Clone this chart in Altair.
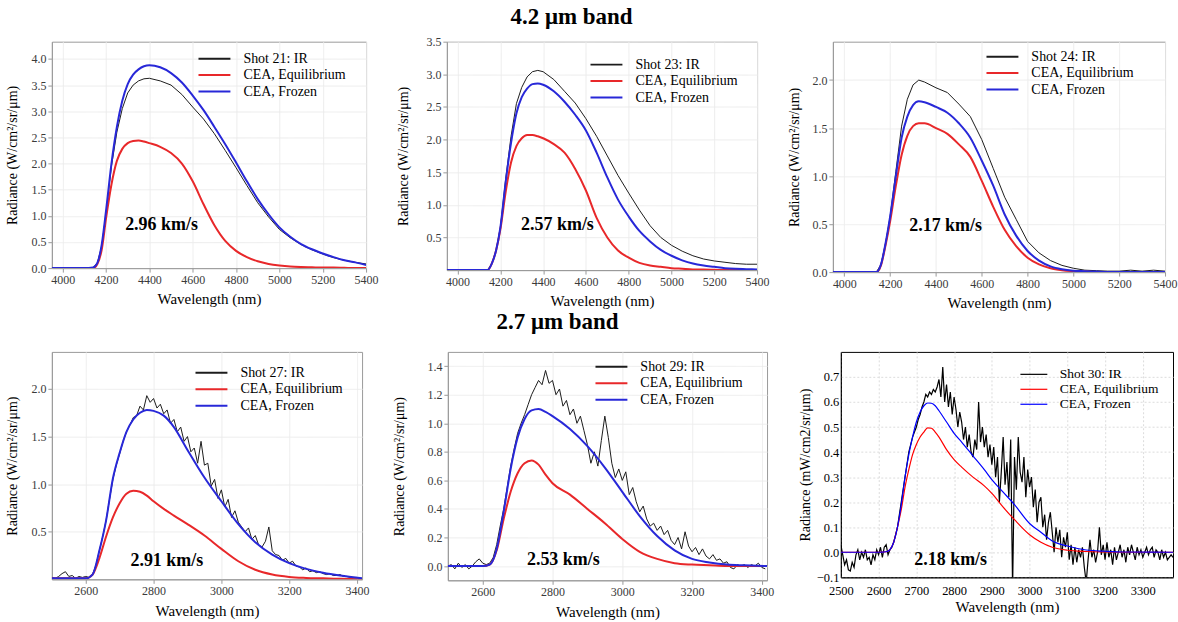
import altair as alt
import pandas as pd

SERIF = "Liberation Serif, Times New Roman, serif"
EQ = "CEA, Equilibrium"
FR = "CEA, Frozen"

# ---------------- 4.2 um band ----------------
band42_wl = [3950, 4000, 4050, 4100, 4140, 4160, 4180, 4200, 4225, 4250,
             4275, 4300, 4325, 4350, 4375, 4400, 4450, 4500, 4550, 4600,
             4650, 4700, 4750, 4800, 4850, 4900, 4950, 5000, 5050, 5100,
             5150, 5200, 5250, 5300, 5350, 5400]
# Shot 21
p1_ir = [0, 0, 0, 0, 0.01, 0.1, 0.42, 1.05, 1.95, 2.6,
         3.05, 3.35, 3.5, 3.58, 3.62, 3.63, 3.58, 3.5, 3.32, 3.08,
         2.85, 2.57, 2.25, 1.92, 1.58, 1.25, 0.98, 0.74, 0.58, 0.45,
         0.35, 0.27, 0.2, 0.15, 0.11, 0.08]
p1_eq = [0, 0, 0, 0, 0, 0.08, 0.35, 0.95, 1.6, 2.05,
         2.28, 2.39, 2.43, 2.44, 2.42, 2.39, 2.32, 2.2, 2.0, 1.66,
         1.22, 0.82, 0.52, 0.33, 0.21, 0.13, 0.08, 0.05, 0.03, 0.02,
         0.015, 0.01, 0.01, 0.005, 0, 0]
p1_fr = [0, 0, 0, 0, 0.01, 0.1, 0.45, 1.1, 2.0, 2.7,
         3.2, 3.52, 3.7, 3.8, 3.86, 3.88, 3.84, 3.73, 3.55, 3.3,
         3.02, 2.7, 2.37, 2.02, 1.66, 1.32, 1.03, 0.78, 0.6, 0.46,
         0.36, 0.28, 0.21, 0.15, 0.11, 0.06]
# Shot 23
p2_ir = [0, 0, 0, 0, 0, 0.1, 0.3, 0.65, 1.4, 2.05,
         2.55, 2.8, 2.96, 3.04, 3.06, 3.04, 2.92, 2.74, 2.56, 2.32,
         2.05, 1.75, 1.45, 1.18, 0.92, 0.68, 0.5, 0.38, 0.29, 0.22,
         0.17, 0.14, 0.12, 0.1, 0.09, 0.09]
p2_eq = [0, 0, 0, 0, 0, 0.1, 0.3, 0.62, 1.2, 1.65,
         1.9, 2.02, 2.07, 2.07, 2.05, 2.02, 1.93, 1.8, 1.55, 1.22,
         0.8, 0.5, 0.3, 0.19, 0.11, 0.07, 0.05, 0.03, 0.02, 0.01,
         0.01, 0.005, 0, 0, 0, 0]
p2_fr = [0, 0, 0, 0, 0, 0.1, 0.3, 0.65, 1.35, 1.95,
         2.4, 2.65, 2.78, 2.85, 2.86, 2.84, 2.74, 2.58, 2.38, 2.14,
         1.8, 1.42, 1.08, 0.82, 0.6, 0.44, 0.31, 0.22, 0.15, 0.1,
         0.07, 0.05, 0.03, 0.02, 0.015, 0.01]
# Shot 24
p3_wl = [3950, 4000, 4050, 4100, 4140, 4160, 4180, 4200, 4225, 4250,
         4275, 4300, 4325, 4350, 4400, 4450, 4500, 4550, 4600, 4650,
         4700, 4750, 4800, 4850, 4900, 4950, 5000, 5050, 5100, 5150,
         5200, 5250, 5300, 5350, 5400]
p3_ir = [0, 0, 0, 0, 0, 0.08, 0.3, 0.58, 1.05, 1.52,
         1.8, 1.95, 2.0, 1.98, 1.92, 1.87, 1.75, 1.62, 1.38, 1.08,
         0.78, 0.55, 0.32, 0.2, 0.12, 0.07, 0.04, 0.02, 0.015, 0.01,
         0.01, 0.02, 0.01, 0.02, 0.01]
p3_eq = [0, 0, 0, 0, 0, 0.07, 0.28, 0.53, 0.9, 1.22,
         1.42, 1.52, 1.55, 1.55, 1.5, 1.44, 1.33, 1.2, 0.95, 0.68,
         0.44, 0.27, 0.15, 0.08, 0.04, 0.02, 0.01, 0.005, 0, 0,
         0, 0, 0, 0, 0]
p3_fr = [0, 0, 0, 0, 0, 0.08, 0.3, 0.58, 1.0, 1.4,
         1.62, 1.74, 1.78, 1.77, 1.72, 1.66, 1.55, 1.4, 1.16, 0.9,
         0.6, 0.38, 0.22, 0.12, 0.06, 0.03, 0.015, 0.01, 0.005, 0,
         0, 0, 0, 0, 0]

# ---------------- 2.7 um band ----------------
# Shot 27
p4_wl = [2500, 2550, 2600, 2620, 2640, 2660, 2680, 2700, 2720, 2740,
         2760, 2780, 2800, 2830, 2860, 2900, 2950, 3000, 3050, 3100,
         3150, 3200, 3250, 3300, 3350, 3415]
p4_eq = [0.01, 0.01, 0.01, 0.05, 0.22, 0.45, 0.65, 0.8, 0.9, 0.93,
         0.92, 0.88, 0.82, 0.74, 0.67, 0.58, 0.46, 0.32, 0.19, 0.1,
         0.05, 0.025, 0.015, 0.01, 0.005, 0]
p4_fr = [0.01, 0.01, 0.01, 0.05, 0.3, 0.62, 1.06, 1.33, 1.55, 1.68,
         1.75, 1.78, 1.77, 1.72, 1.6, 1.36, 1.07, 0.82, 0.58, 0.39,
         0.26, 0.17, 0.11, 0.07, 0.04, 0.01]
p4_ir_wl = list(range(2500, 3411, 10))
p4_ir = [0.02, 0.01, 0.03, 0.06, 0.08, 0.03, 0.04, 0.01, 0.03, 0.02,
         0.03, 0.02, 0.05, 0.15, 0.3, 0.45, 0.62, 0.84, 1.05, 1.2,
         1.32, 1.45, 1.55, 1.62, 1.7, 1.72, 1.82, 1.78, 1.93, 1.86,
         1.9, 1.8, 1.84, 1.74, 1.78, 1.64, 1.68, 1.55, 1.6, 1.45,
         1.5, 1.34, 1.38, 1.22, 1.45, 1.2, 1.22, 0.98, 1.05, 0.85,
         0.94, 0.76, 0.84, 0.65, 0.72, 0.6, 0.55, 0.5, 0.54, 0.42,
         0.46, 0.36, 0.34, 0.4, 0.55, 0.3, 0.26, 0.25, 0.2, 0.22,
         0.17, 0.19, 0.14, 0.13, 0.1, 0.12, 0.08, 0.09, 0.07, 0.08,
         0.06, 0.05, 0.06, 0.04, 0.04, 0.05, 0.03, 0.03, 0.02, 0.02,
         0.02, 0.01]
# Shot 29
p5_wl = [2500, 2550, 2600, 2620, 2640, 2660, 2680, 2700, 2720, 2740,
         2760, 2780, 2800, 2850, 2900, 2950, 3000, 3050, 3100, 3150,
         3200, 3250, 3300, 3350, 3415]
p5_eq = [0, 0, 0, 0.01, 0.11, 0.33, 0.52, 0.65, 0.72, 0.74,
         0.71, 0.64, 0.58, 0.5, 0.4, 0.3, 0.19, 0.1, 0.05, 0.02,
         0.01, 0.005, 0, 0, 0]
p5_fr = [0, 0, 0, 0.01, 0.12, 0.38, 0.68, 0.9, 1.03, 1.09,
         1.1, 1.08, 1.05, 0.96, 0.84, 0.69, 0.52, 0.35, 0.21, 0.11,
         0.05, 0.025, 0.01, 0.005, 0]
p5_ir_wl = list(range(2500, 3411, 10))
p5_ir = [0.0, 0.01, -0.02, 0.02, -0.01, 0.01, -0.02, 0.0, 0.03, 0.05,
         0.02, 0.01, 0.02, 0.06, 0.15, 0.28, 0.4, 0.55, 0.7, 0.82,
         0.93, 1.0, 1.06, 1.13, 1.2, 1.25, 1.3, 1.27, 1.37, 1.28,
         1.3, 1.2, 1.24, 1.12, 1.16, 1.06, 1.1, 1.0, 1.05, 0.95,
         0.85, 0.72, 0.8, 0.7, 0.88, 1.05, 0.9, 0.72, 0.62, 0.68,
         0.6, 0.66, 0.5, 0.55, 0.45, 0.38, 0.42, 0.33, 0.28, 0.3,
         0.25, 0.28, 0.22, 0.25, 0.18, 0.15, 0.2, 0.12, 0.24, 0.14,
         0.1, 0.13, 0.08, 0.12, 0.07, 0.05, 0.08, 0.04, 0.05, 0.02,
         0.03, -0.01, -0.02, 0.01, 0.0, 0.01, -0.01, 0.01, 0.0, 0.02,
         -0.01, -0.02]
# Shot 30
p6_wl = [2500, 2550, 2600, 2620, 2630, 2640, 2650, 2660, 2670, 2680,
         2690, 2700, 2710, 2720, 2730, 2740, 2750, 2760, 2780, 2800,
         2820, 2850, 2880, 2900, 2930, 2960, 3000, 3030, 3060, 3100,
         3150, 3200, 3250, 3380]
p6_eq = [0, 0, 0, 0.002, 0.01, 0.04, 0.1, 0.17, 0.26, 0.33,
         0.39, 0.43, 0.46, 0.48, 0.497, 0.495, 0.48, 0.46, 0.41, 0.37,
         0.34, 0.3, 0.265, 0.235, 0.18, 0.13, 0.07, 0.04, 0.02, 0.008,
         0.003, 0.001, 0, 0]
p6_fr = [0, 0, 0, 0.002, 0.01, 0.04, 0.1, 0.19, 0.3, 0.39,
         0.46, 0.52, 0.56, 0.585, 0.596, 0.595, 0.585, 0.565, 0.52, 0.475,
         0.44, 0.385, 0.33, 0.29, 0.24, 0.19, 0.115, 0.08, 0.045, 0.025,
         0.009, 0.004, 0.001, 0]
p6_ir_wl = list(range(2500, 3381, 5))
p6_ir = [0.03, -0.01, -0.05, -0.03, -0.07, -0.075, -0.04, -0.06, -0.01, 0.01,
         -0.03, 0.0, -0.02, 0.01, -0.03, -0.02, -0.05, -0.01, -0.03, 0.01,
         -0.01, 0.02, -0.02, 0.02, 0.03, -0.01, 0.01, 0.02, 0.04, 0.07,
         0.1, 0.15, 0.2, 0.25, 0.3, 0.35, 0.4, 0.43, 0.46, 0.48,
         0.5, 0.53, 0.55, 0.58, 0.6, 0.63, 0.62, 0.64, 0.63, 0.65,
         0.64, 0.66, 0.69, 0.62, 0.74, 0.6, 0.67, 0.58, 0.64, 0.55,
         0.62, 0.57, 0.5, 0.56, 0.52, 0.45, 0.5, 0.42, 0.47, 0.4,
         0.38, 0.45, 0.41, 0.6, 0.44, 0.5, 0.42, 0.47, 0.38, 0.43,
         0.35, 0.42, 0.3, 0.38, 0.2, 0.32, 0.46, 0.27, 0.36, 0.22,
         0.45, -0.15, 0.38, 0.25, 0.46, 0.32, 0.28, 0.38, 0.22, 0.33,
         0.26, 0.3, 0.18, 0.25, 0.12, 0.2, 0.22, 0.1, 0.15, 0.05,
         0.12, 0.16, 0.08, 0.0, 0.1, 0.04, 0.09, -0.02, 0.06, 0.02,
         0.08, -0.03, 0.03, -0.05, 0.02, -0.04, 0.01, -0.02, 0.02, -0.06,
         -0.12, -0.03, 0.05, -0.02, 0.01, -0.04, 0.0, 0.1, -0.01, 0.03,
         -0.03, 0.04, -0.02, 0.01, -0.05, 0.02, -0.03, 0.0, 0.03, -0.02,
         0.01, -0.04, 0.02, -0.01, 0.03, 0.0, -0.03, 0.02, -0.01, 0.01,
         -0.02, 0.0, 0.02, -0.01, 0.01, 0.02, -0.02, 0.01, 0.0, -0.03,
         0.01, -0.02, 0.0, -0.03, -0.02, -0.01, -0.02]

# velocity annotations (text, wavelength, radiance where the label sits)
vel_text = ["2.96 km/s", "2.57 km/s", "2.17 km/s", "2.91 km/s", "2.53 km/s", "2.18 km/s"]
vel_wl = [4456, 4467, 4442, 2839, 2831, 2791]
vel_val = [0.82, 0.69, 0.48, 0.19, 0.04, -0.032]

# tick labels
x42_ticks = [4000, 4200, 4400, 4600, 4800, 5000, 5200, 5400]
x27_ticks = [2600, 2800, 3000, 3200, 3400]
x30_ticks = [2500, 2600, 2700, 2800, 2900, 3000, 3100, 3200, 3300]
y1_ticks = [0.0, 0.5, 1.0, 1.5, 2.0, 2.5, 3.0, 3.5, 4.0]
y2_ticks = [0.5, 1.0, 1.5, 2.0, 2.5, 3.0, 3.5]
y3_ticks = [0.0, 0.5, 1.0, 1.5, 2.0]
y4_ticks = [0.5, 1.0, 1.5, 2.0]
y5_ticks = [0.0, 0.2, 0.4, 0.6, 0.8, 1.0, 1.2, 1.4]
y6_ticks = [-0.1, 0.0, 0.1, 0.2, 0.3, 0.4, 0.5, 0.6, 0.7]

STYLE_A = dict(colors=["#1c1c1c", "#e8282a", "#2828d8"], ir_w=1.0, cea_w=2.0,
               frame="#9a9a9a", label="#3a3a3a", grid="#ececec", dash=[1, 0],
               lab_fs=12, leg_fs=14, sym=256, lab_off=20, rowpad=0.5,
               tick=4, xpad=2, ytitle="Radiance (W/cm²/sr/μm)")
STYLE_B = dict(colors=["#000000", "#ff0000", "#0000ff"], ir_w=1.2, cea_w=1.2,
               frame="#000000", label="#000000", grid="#dcdcdc", dash=[2, 2],
               lab_fs=12.5, leg_fs=13.5, sym=182, lab_off=18.5, rowpad=1,
               tick=0, xpad=7, ytitle="Radiance (mW/cm2/sr/μm)")


def panel(k, wl_s, eq, fr, wl_ir, ir, shot, st, xdom, ydom, xvals, yvals,
          w, h, ytp, xtp, leg_xy):
    n = len(wl_s)
    cea = pd.DataFrame({"wl": wl_s + wl_s, "val": eq + fr,
                        "series": [EQ] * n + [FR] * n})
    ird = pd.DataFrame({"wl": wl_ir, "val": ir, "series": [shot] * len(wl_ir)})
    txd = pd.DataFrame({"wl": [vel_wl[k]], "val": [vel_val[k]], "t": [vel_text[k]]})
    dom = [shot, EQ, FR]
    leg = alt.Legend(
        orient="none", legendX=leg_xy[0], legendY=leg_xy[1], title=None,
        symbolType="M-2,0H2", symbolSize=st["sym"], symbolStrokeWidth=st["cea_w"],
        labelFont=SERIF, labelFontSize=st["leg_fs"], labelColor="black",
        labelOffset=st["lab_off"], rowPadding=st["rowpad"], padding=0, labelLimit=300,
    )
    color = alt.Color("series:N", scale=alt.Scale(domain=dom, range=st["colors"]),
                      legend=leg)
    common = dict(labelFont=SERIF, labelFontSize=st["lab_fs"], labelColor=st["label"],
                  titleFont=SERIF, titleFontWeight="normal", titleColor="black",
                  domainColor=st["frame"], tickColor=st["frame"], tickSize=st["tick"],
                  gridColor=st["grid"], gridDash=st["dash"],
                  labelFlush=False, labelOverlap=False)
    xaxis = alt.Axis(values=xvals, format="d", title="Wavelength (nm)",
                     titleFontSize=15, titlePadding=xtp, labelPadding=st["xpad"],
                     **common)
    yaxis = alt.Axis(values=yvals, format=".1f", title=st["ytitle"],
                     titleFontSize=14, titlePadding=ytp, labelPadding=2, **common)
    x = alt.X("wl:Q", scale=alt.Scale(domain=xdom, nice=False, zero=False), axis=xaxis)
    y = alt.Y("val:Q", scale=alt.Scale(domain=ydom, nice=False, zero=False), axis=yaxis)
    ir_layer = alt.Chart(ird).mark_line(clip=True, strokeWidth=st["ir_w"]).encode(
        x=x, y=y, color=color)
    cea_layer = alt.Chart(cea).mark_line(clip=True, interpolate="monotone",
                                         strokeWidth=st["cea_w"]).encode(
        x=x, y=y, color=color)
    txt = alt.Chart(txd).mark_text(
        font=SERIF, fontSize=18, fontWeight="bold", color="black").encode(
        x=x, y=y, text="t:N")
    return alt.layer(ir_layer, cea_layer, txt).properties(
        width=w, height=h, view=alt.ViewBackground(stroke=st["frame"], strokeWidth=1))


p1 = panel(0, band42_wl, p1_eq, p1_fr, band42_wl, p1_ir, "Shot 21: IR", STYLE_A,
           [3950, 5400], [0, 4.33], x42_ticks, y1_ticks, 315, 227, 11, 6, (154, 8))
p2 = panel(1, band42_wl, p2_eq, p2_fr, band42_wl, p2_ir, "Shot 23: IR", STYLE_A,
           [3950, 5400], [0, 3.5], x42_ticks, y2_ticks, 311, 229, 15, 6, (151, 14))
p3 = panel(2, p3_wl, p3_eq, p3_fr, p3_wl, p3_ir, "Shot 24: IR", STYLE_A,
           [3950, 5400], [0, 2.4], x42_ticks, y3_ticks, 333, 231, 10, 6, (161, 6))
p4 = panel(3, p4_wl, p4_eq, p4_fr, p4_ir_wl, p4_ir, "Shot 27: IR", STYLE_A,
           [2500, 3415], [0, 2.39], x27_ticks, y4_ticks, 311, 228, 11, 7, (151, 12))
p5 = panel(4, p5_wl, p5_eq, p5_fr, p5_ir_wl, p5_ir, "Shot 29: IR", STYLE_A,
           [2500, 3415], [-0.1, 1.5], x27_ticks, y5_ticks, 320, 229, 20, 7, (155, 6))
p6 = panel(5, p6_wl, p6_eq, p6_fr, p6_ir_wl, p6_ir, "Shot 30: IR", STYLE_B,
           [2500, 3380], [-0.1, 0.8], x30_ticks, y6_ticks, 333, 226, 4, 3, (186, 15))

res = dict(x="independent", y="independent", color="independent")
row1 = alt.hconcat(p1, p2, p3, spacing=17, title=alt.TitleParams(
    "4.2 μm band", font=SERIF, fontSize=23, fontWeight="bold", anchor="middle",
    dx=-20, offset=6, color="black")).resolve_scale(**res)
row2 = alt.hconcat(p4, p5, p6, spacing=22, title=alt.TitleParams(
    "2.7 μm band", font=SERIF, fontSize=23, fontWeight="bold", anchor="middle",
    dx=-32, offset=17, color="black")).resolve_scale(**res)

chart = alt.vconcat(row1, row2, spacing=0).resolve_scale(**res).properties(
    padding={"left": 5, "top": 5, "right": 0, "bottom": 0}, background="white"
).configure(font=SERIF).configure_axis(labelOverlap=False, labelFont=SERIF,
                                       titleFont=SERIF)

chart.save("out.html", embed_options={"renderer": "svg", "actions": False})
